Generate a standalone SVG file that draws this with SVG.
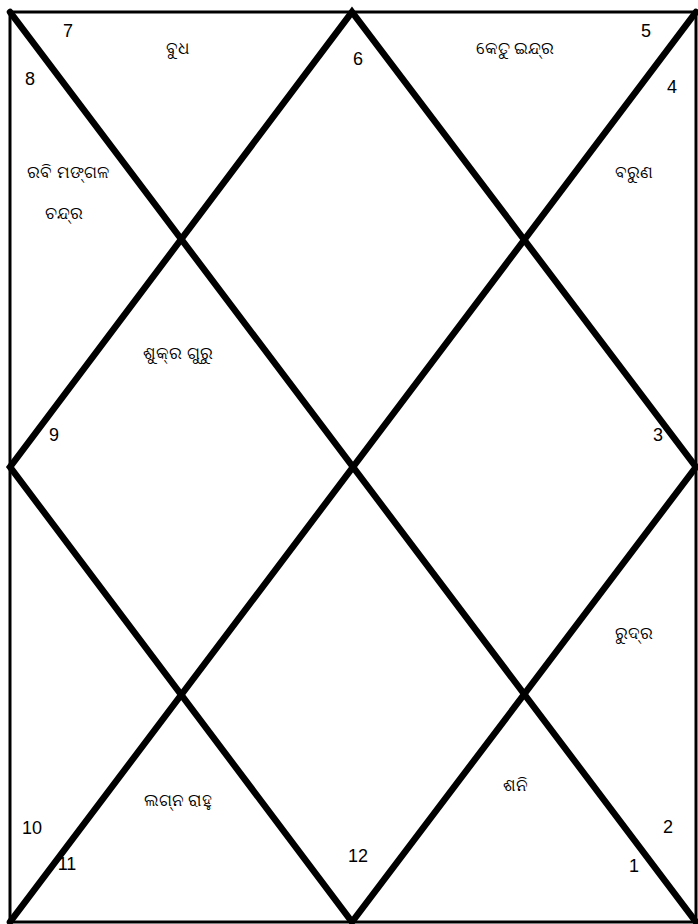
<svg xmlns="http://www.w3.org/2000/svg" width="698" height="924" viewBox="0 0 698 924">
<style>
.frame{fill:none;stroke:#000;stroke-width:3}
.ln{stroke:#000;stroke-width:6.5;stroke-linecap:round;fill:none}
.num{font-family:"Liberation Sans",Arial,sans-serif;font-size:18px;fill:#000;text-anchor:middle}
.pl{font-family:"Noto Sans","DejaVu Sans",sans-serif;font-size:17px;fill:#000;text-anchor:middle}
</style>
<rect width="698" height="924" fill="#fff"/>
<g id="connectors">
<rect class="frame" x="10" y="12" width="686" height="910"/>
<line class="ln" x1="10" y1="12" x2="696" y2="922"/>
<line class="ln" x1="696" y1="12" x2="10" y2="922"/>
<polygon class="ln" points="352,12 696,467 352,922 10,467"/>
</g>
<g id="house1"><text class="num" x="634" y="872">1</text></g>
<g id="house2"><text class="num" x="668" y="833">2</text><text class="pl" x="515" y="791">ଶନି</text></g>
<g id="house3"><text class="num" x="658" y="441">3</text><text class="pl" x="634" y="639">ରୁଦ୍ର</text></g>
<g id="house4"><text class="num" x="672" y="93">4</text><text class="pl" x="634" y="178">ବରୁଣ</text></g>
<g id="house5"><text class="num" x="646" y="37">5</text><text class="pl" x="515" y="54">କେତୁ ଇନ୍ଦ୍ର</text></g>
<g id="house6"><text class="num" x="358" y="65">6</text></g>
<g id="house7"><text class="num" x="68" y="37">7</text><text class="pl" x="178" y="54">ବୁଧ</text></g>
<g id="house8"><text class="num" x="30" y="85">8</text><text class="pl" x="68" y="178">ରବି ମଙ୍ଗଳ</text><text class="pl" x="64" y="219">ଚନ୍ଦ୍ର</text></g>
<g id="house9"><text class="num" x="54" y="441">9</text><text class="pl" x="178" y="359">ଶୁକ୍ର ଗୁରୁ</text></g>
<g id="house10"><text class="num" x="32" y="834">10</text><text class="pl" x="178" y="806">ଲଗ୍ନ ରାହୁ</text></g>
<g id="house11"><text class="num" x="67" y="870">11</text></g>
<g id="house12"><text class="num" x="358" y="862">12</text></g>
</svg>
